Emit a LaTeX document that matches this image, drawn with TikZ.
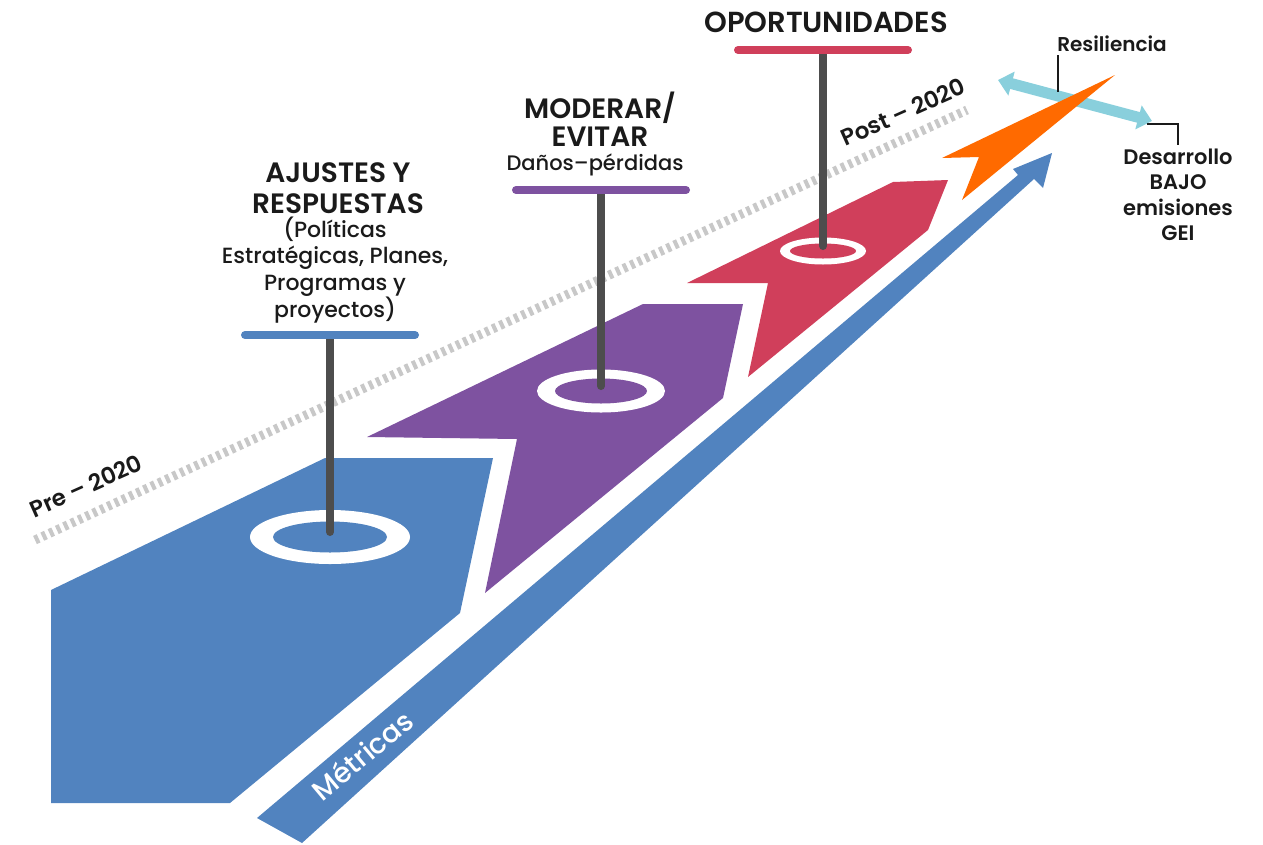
\documentclass[tikz,border=0pt]{standalone}
\usepackage{fontspec}
\setmainfont{Poppins}[UprightFont={* Medium}, BoldFont={* SemiBold}]
\usepackage{tikz}
\usetikzlibrary{arrows.meta,positioning}
\usepackage{xcolor}
\definecolor{ajusteblue}{RGB}{81,131,191}
\definecolor{evitarpurple}{RGB}{126,82,160}
\definecolor{oportred}{RGB}{208,63,91}
\definecolor{postorange}{RGB}{255,106,0}
\definecolor{resilcyan}{RGB}{137,207,220}
\definecolor{polegray}{RGB}{77,77,77}
\definecolor{dotgray}{RGB}{200,200,200}
\definecolor{inkblack}{RGB}{26,26,26}

\tikzset{
  titletext/.style={align=center, text=inkblack, font=\bfseries\fontsize{28}{31}\selectfont},
  subtext/.style={align=center, text=inkblack, font=\fontsize{22}{26.5}\selectfont},
  yeartext/.style={rotate=24, text=inkblack, font=\bfseries\fontsize{23}{26}\selectfont},
  leader/.style={inkblack, line width=1.5pt}
}

\begin{document}
\begin{tikzpicture}[x=1pt,y=-1pt]
\useasboundingbox (0,0) rectangle (1263,844);

% Timeline (dotted)
\draw[dotgray, line width=9pt, dash pattern=on 4pt off 4pt] (35,540) -- (967,110);
\node[yeartext] (pre) at (86,486) {Pre – 2020};
\node[yeartext] (post) at (903,112) {Post – 2020};

% Metrics arrow
\fill[ajusteblue] (257,818) -- (1018,175) -- (1013,169) -- (1052,153)
    -- (1043,188) -- (1034,179) -- (302,843) -- cycle;
\node[rotate=40, text=white, font=\fontsize{28}{30}\selectfont] (metricas) at (362,755) {Métricas};

% Stages
\fill[ajusteblue] (51,590) -- (325,458) -- (493,458) -- (460,613) -- (230,803) -- (51,803) -- cycle;
\fill[evitarpurple] (367,437) -- (643,304) -- (743,304) -- (723,398) -- (485,593) -- (517,439) -- cycle;
\fill[oportred] (687,283) -- (893,182) -- (948,180) -- (928,230) -- (748,377) -- (768,283) -- cycle;

% Rings, poles and bars
\foreach \cx/\ytop/\cy/\rx/\ry/\irx/\iry/\col in {330/335/537/80/27/57/15.5/ajusteblue,
    601/190/391/64/21.5/46/12.5/evitarpurple, 823/50/251/43/13.5/33/7.5/oportred} {
    \fill[white] (\cx,\cy) ellipse [x radius=\rx pt, y radius=\ry pt];
    \fill[\col] (\cx,\cy) ellipse [x radius=\irx pt, y radius=\iry pt];
    \draw[polegray, line width=8pt, line cap=round] (\cx,\ytop) -- (\cx,\cy-5);
    \draw[\col, line width=8pt, line cap=round] (\cx-85,\ytop) -- (\cx+85,\ytop);
}

% Resilience double arrow
\coordinate (resil-l) at (998,80);
\coordinate (resil-r) at (1152,121);
\draw[resilcyan, line width=11pt, {Triangle[length=14pt,width=24pt]}-{Triangle[length=14pt,width=24pt]}]
    (resil-l) -- (resil-r);

% Post-2020 arrow
\fill[postorange] (1115,75) -- (942,158) -- (979,157) -- (962,200) -- cycle;

% Labels
\node[titletext] (ajustes) at (338,188) {AJUSTES Y\\RESPUESTAS};
\node[subtext] (politicas) at (335,270) {(Políticas\\Estratégicas, Planes,\\Programas y\\proyectos)};
\node[titletext, font=\bfseries\fontsize{28}{28}\selectfont] (moderar) at (600,119) {MODERAR/\\EVITAR};
\node[subtext, font=\fontsize{21}{24}\selectfont] (danos) at (595,165) {Daños–pérdidas};
\node[titletext, font=\bfseries\fontsize{29}{31}\selectfont] (oport) at (826,22) {OPORTUNIDADES};

\node[subtext, font=\bfseries\fontsize{20}{22}\selectfont] (resil) at (1112,44) {Resiliencia};
\node[subtext, font=\bfseries\fontsize{21}{25.5}\selectfont] (desarrollo) at (1178,195) {Desarrollo\\BAJO\\emisiones\\GEI};

% Leaders
\coordinate (resil-hit) at (1058,92);
\coordinate (desa-hit) at (1147,124);
\draw[leader] (resil.south -| resil-hit) -- (resil-hit);
\draw[leader] (desa-hit) -| (desarrollo.north);
\end{tikzpicture}
\end{document}
